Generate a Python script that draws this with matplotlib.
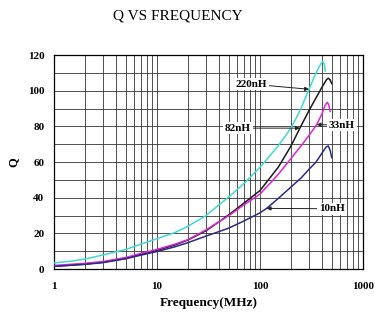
import numpy as np
import matplotlib
matplotlib.use("Agg")
import matplotlib.pyplot as plt
from matplotlib.ticker import FixedLocator, NullFormatter, MultipleLocator

plt.rcParams["font.family"] = ["Liberation Serif", "DejaVu Serif"]

# Q vs frequency readings (MHz, Q)
f_220 = [1, 1.5, 2, 3, 5, 7, 10, 15, 20, 30, 40, 50, 70, 100, 150, 200, 250, 300, 350, 380, 406, 420, 430]
q_220 = [3.4, 4.5, 5.6, 7.9, 11, 14, 17, 20.5, 24, 30, 36, 40.5, 48, 57, 69, 79, 90, 101, 110, 114, 116.5, 115, 111]

f_82 = [1, 2, 3, 5, 7, 10, 15, 20, 30, 40, 50, 70, 100, 150, 200, 244, 300, 350, 400, 440, 460, 480, 497]
q_82 = [1.5, 2.8, 3.8, 6, 8.3, 10.5, 13.5, 16.3, 21.5, 26.5, 30.5, 37, 44, 57, 69, 79, 89, 96, 102, 106, 107, 106, 104]

f_33 = [1, 2, 3, 5, 7, 10, 15, 20, 30, 40, 50, 70, 100, 150, 200, 250, 300, 355, 400, 430, 450, 465, 480]
q_33 = [2, 3.2, 4.2, 6.5, 8.8, 11, 14, 16.5, 22, 26.5, 30, 36, 42, 53, 62, 69, 75, 81, 87, 92, 93.5, 92, 88.5]

f_10 = [1, 2, 3, 5, 7, 10, 15, 20, 30, 40, 50, 70, 100, 116, 150, 200, 250, 300, 350, 400, 440, 460, 480, 497]
q_10 = [1.5, 2.6, 3.6, 5.8, 7.8, 9.8, 12.5, 14.8, 18.5, 21, 23, 27, 31.5, 34, 39.5, 46, 51, 56, 60, 65, 68.5, 69, 66.5, 62.5]

series = [
    ("220nH", f_220, q_220, "#3ddbd2"),
    ("82nH", f_82, q_82, "#1a1a1a"),
    ("33nH", f_33, q_33, "#e024d4"),
    ("10nH", f_10, q_10, "#2b2b85"),
]

# label text position and frequency where the arrow touches the curve
label_pos = {"220nH": (82, 103.7), "82nH": (61, 79), "33nH": (625, 80.6), "10nH": (500, 33.8)}
label_tip = {"220nH": 299, "82nH": 244, "33nH": 355, "10nH": 116}

fig = plt.figure(figsize=(3.75, 3.18), dpi=100)
ax = fig.add_axes([0.144, 0.154, 0.824, 0.673])

for name, f, q, c in series:
    ax.plot(f, q, color=c, lw=1.1, zorder=3, solid_joinstyle="round")

for name, f, q, c in series:
    tf = label_tip[name]
    tq = np.interp(np.log10(tf), np.log10(f), q)
    ax.annotate(name, xy=(tf, tq), xytext=label_pos[name],
                fontsize=8, fontweight="bold", ha="center", va="center",
                bbox=dict(boxstyle="square,pad=0.15", fc="white", ec="none"),
                arrowprops=dict(arrowstyle="-|>,head_length=0.3,head_width=0.15",
                                color="#222222", lw=0.7, shrinkA=0, shrinkB=0),
                zorder=4)

ax.set_xscale("log")
ax.set_xlim(1, 1000)
ax.set_ylim(0, 120)
ax.xaxis.set_major_locator(FixedLocator([1, 10, 100, 1000]))
ax.xaxis.set_minor_locator(FixedLocator([m * 10 ** d for d in range(3) for m in range(2, 10)]))
ax.xaxis.set_minor_formatter(NullFormatter())
ax.set_xticklabels(["1", "10", "100", "1000"])
ax.yaxis.set_major_locator(MultipleLocator(20))
ax.yaxis.set_minor_locator(MultipleLocator(10))
ax.grid(which="both", color="#333333", lw=0.6)
ax.tick_params(which="both", length=0, labelsize=8)
ax.tick_params(axis="x", pad=9)
ax.tick_params(axis="y", pad=7)
for lab in ax.get_xticklabels() + ax.get_yticklabels():
    lab.set_fontweight("bold")
for s in ax.spines.values():
    s.set_linewidth(0.9)

ax.set_xlabel("Frequency(MHz)", fontsize=9.5, fontweight="bold", labelpad=5)
ax.set_ylabel("Q", fontsize=9, fontweight="bold", labelpad=6)
fig.text(0.473, 0.95, "Q VS FREQUENCY", fontsize=11, ha="center", va="center")

fig.savefig("out.png", dpi=100)
